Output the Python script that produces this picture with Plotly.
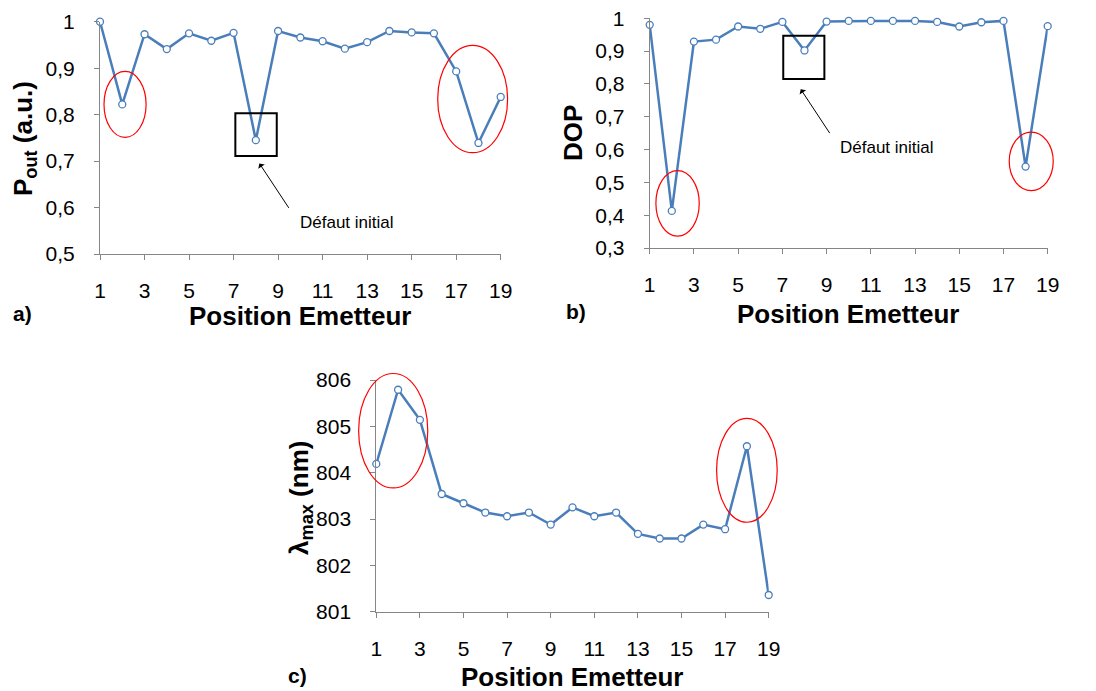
import plotly.graph_objects as go

# ---- data ----
positions = list(range(1, 20))
p_out = [1.0, 0.822, 0.973, 0.941, 0.975, 0.959, 0.976, 0.745, 0.980, 0.966,
         0.958, 0.942, 0.956, 0.980, 0.977, 0.975, 0.893, 0.739, 0.838]
dop = [0.980, 0.413, 0.929, 0.935, 0.975, 0.968, 0.989, 0.902, 0.990, 0.992,
       0.992, 0.992, 0.992, 0.989, 0.975, 0.988, 0.992, 0.548, 0.976]
lambda_max = [804.19, 805.79, 805.14, 803.54, 803.34, 803.14, 803.06, 803.14, 802.88, 803.25,
              803.06, 803.14, 802.68, 802.58, 802.58, 802.88, 802.78, 804.57, 801.36]

W, H = 1096, 691
BLUE = "#4A7EBB"
AXIS = "#868686"
FAMILY = "Liberation Sans"
TICKFONT = dict(family=FAMILY, size=21, color="black")
TITLEFONT = dict(family=FAMILY, size=26, color="black")

xr = [1, 19]
yr_a, yr_b, yr_c = [0.5, 1], [0.3, 1], [801, 806]

# pixel boxes of the three plot areas (left, right, top, bottom)
box_a = (100, 500.7, 21.7, 254)
box_b = (649.7, 1047.7, 18.3, 248)
box_c = (376.3, 768.7, 380, 611.7)


def dom_x(b):
    return [b[0] / W, b[1] / W]


def dom_y(b):
    return [1 - b[3] / H, 1 - b[2] / H]


fig = go.Figure()
for y, ax in [(p_out, ""), (dop, "2"), (lambda_max, "3")]:
    fig.add_trace(go.Scatter(
        x=positions, y=y, xaxis="x" + ax, yaxis="y" + ax, mode="lines+markers",
        line=dict(color=BLUE, width=2.5),
        marker=dict(size=7, color="white", line=dict(color=BLUE, width=1.3)),
        cliponaxis=False, showlegend=False))

xa = dict(range=xr, tickmode="linear", tick0=1, dtick=2, showgrid=False, zeroline=False,
          showline=True, linecolor=AXIS, linewidth=1, ticks="outside", ticklen=5,
          tickcolor=AXIS, tickfont=TICKFONT, ticklabelstandoff=13, automargin=False)
ya = dict(showgrid=False, zeroline=False, showline=True, linecolor=AXIS, linewidth=1,
          ticks="outside", ticklen=5, tickcolor=AXIS, tickfont=TICKFONT, ticklabelstandoff=15,
          automargin=False)

fig.update_layout(
    width=W, height=H, margin=dict(l=0, r=0, t=0, b=0),
    paper_bgcolor="white", plot_bgcolor="white", separators=", ",
    xaxis=dict(xa, domain=dom_x(box_a), anchor="y"),
    yaxis=dict(ya, domain=dom_y(box_a), range=yr_a, dtick=0.1, anchor="x"),
    xaxis2=dict(xa, domain=dom_x(box_b), anchor="y2"),
    yaxis2=dict(ya, domain=dom_y(box_b), range=yr_b, dtick=0.1, anchor="x2"),
    xaxis3=dict(xa, domain=dom_x(box_c), anchor="y3"),
    yaxis3=dict(ya, domain=dom_y(box_c), range=yr_c, dtick=1, anchor="x3"),
)


def ellipse(ax, yrng, x0, x1, y0, y1, color="red", width=1.2):
    fx = lambda v: (v - xr[0]) / (xr[1] - xr[0])
    fy = lambda v: (v - yrng[0]) / (yrng[1] - yrng[0])
    fig.add_shape(type="circle", xref=f"x{ax} domain", yref=f"y{ax} domain",
                  x0=fx(x0), x1=fx(x1), y0=fy(y0), y1=fy(y1),
                  line=dict(color=color, width=width))


def rect(ax, x0, x1, y0, y1):
    fig.add_shape(type="rect", xref=f"x{ax}", yref=f"y{ax}", x0=x0, x1=x1, y0=y0, y1=y1,
                  line=dict(color="black", width=2))


def arrow(ax, tip, tail, label_xy):
    fig.add_annotation(xref=f"x{ax}", yref=f"y{ax}", axref=f"x{ax}", ayref=f"y{ax}",
                       x=tip[0], y=tip[1], ax=tail[0], ay=tail[1], text=" ",
                       showarrow=True, arrowhead=1, arrowsize=1.3, arrowwidth=1,
                       arrowcolor="black", font=dict(size=1))
    fig.add_annotation(xref="paper", yref="paper", x=label_xy[0] / W, y=1 - label_xy[1] / H,
                       text="Défaut initial", showarrow=False, xanchor="left",
                       font=dict(family=FAMILY, size=17, color="black"))


# panel a
ellipse("", yr_a, 1.18, 3.07, 0.751, 0.893)
ellipse("", yr_a, 16.17, 19.31, 0.718, 0.949)
rect("", 7.08, 8.94, 0.711, 0.803)
arrow("", (8.16, 0.695), (9.54, 0.595), (298, 211))
# panel b
ellipse("2", yr_b, 1.28, 3.24, 0.336, 0.536)
ellipse("2", yr_b, 17.26, 19.25, 0.475, 0.653)
rect("2", 7.04, 8.90, 0.815, 0.947)
arrow("2", (7.83, 0.784), (9.20, 0.644), (838, 136))
# panel c
ellipse("3", yr_c, 0.19, 3.36, 803.67, 806.14)
ellipse("3", yr_c, 16.61, 19.39, 802.93, 805.17)


def label(text, x, y, angle=0, size=26):
    fig.add_annotation(xref="paper", yref="paper", x=x / W, y=1 - y / H, text=text,
                       showarrow=False, textangle=angle, xanchor="center", yanchor="middle",
                       font=dict(TITLEFONT, size=size))


label("<b>Position Emetteur</b>", 300, 316)
label("<b>Position Emetteur</b>", 848, 314)
label("<b>Position Emetteur</b>", 572, 677)
label("<b>P<sub>out</sub> (a.u.)</b>", 25, 139, angle=-90)
label("<b>DOP</b>", 573, 133, angle=-90)
label("<b>λ<sub>max</sub> (nm)</b>", 300, 498, angle=-90)
label("<b>a)</b>", 22, 314, size=21)
label("<b>b)</b>", 576, 311, size=21)
label("<b>c)</b>", 297, 675, size=21)

# the page's default body margin would shift the figure by 8 px
fig.write_html("out.html", config={"displayModeBar": False},
               post_script="document.body.style.margin='0';")
